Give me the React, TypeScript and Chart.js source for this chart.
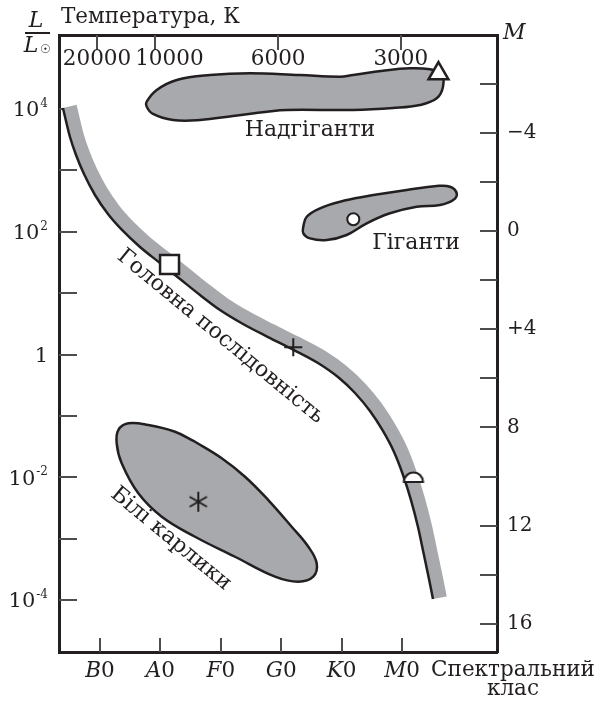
import React, { useEffect, useRef } from "react";
import { Chart, registerables } from "chart.js";

Chart.register(...registerables);

const SERIF = '"DejaVu Serif", "Liberation Serif", serif';
const INK = "#231f20";
const GREY = "#a7a9ac";
const TICK = "#4d4d4f";

// ---- axis definitions ----
// x: spectral class units (B0 = 1 ... M0 = 6); y: log10(L / Lsun); y2: absolute magnitude M
const xMin = 0.321;
const xMax = 7.573;
const logLMin = -4.847;
const logLMax = 5.206;
const magTop = -7.985;
const magBottom = 17.148;

const spectralLetters = ["B", "A", "F", "G", "K", "M"];
const spectralValues = [1, 2, 3, 4, 5, 6];

const temperatureLabels = ["20000", "10000", "6000", "3000"];
const temperatureValues = [0.95, 1.91, 3.95, 5.98];

const luminosityTicks = [4, 3, 2, 1, 0, -1, -2, -3, -4];
const luminosityLabels = [4, 2, 0, -2, -4];

const magnitudeTicks = [-6, -4, -2, 0, 2, 4, 6, 8, 10, 12, 14, 16];
const magnitudeLabelValues = [-4, 0, 4, 8, 12, 16];
const magnitudeLabelText = ["\u22124", "0", "+4", "8", "12", "16"];

// ---- data (x = spectral class, y = log L) ----
const mainSequenceEdge: [number, number][] = [
  [0.387, 4.016], [0.437, 3.804], [0.503, 3.544], [0.603, 3.251], [0.735, 2.941],
  [0.917, 2.599], [1.132, 2.289], [1.364, 2.029], [1.662, 1.752], [1.993, 1.491],
  [2.325, 1.23], [2.656, 0.969], [2.987, 0.725], [3.368, 0.497], [3.781, 0.285],
  [4.212, 0.073], [4.609, -0.138], [4.94, -0.367], [5.222, -0.627], [5.47, -0.921],
  [5.685, -1.246], [5.868, -1.589], [6.017, -1.963], [6.149, -2.371], [6.265, -2.811],
  [6.364, -3.267], [6.447, -3.658], [6.513, -3.984],
];
const mainSequenceBand: [number, number][] = [
  [0.5, 4.042], [0.55, 3.831], [0.614, 3.576], [0.71, 3.291], [0.839, 2.99],
  [1.017, 2.657], [1.224, 2.359], [1.447, 2.108], [1.738, 1.838], [2.066, 1.58],
  [2.397, 1.32], [2.727, 1.059], [3.051, 0.82], [3.424, 0.596], [3.834, 0.386],
  [4.265, 0.174], [4.671, -0.041], [5.013, -0.279], [5.306, -0.549], [5.563, -0.854],
  [5.785, -1.189], [5.974, -1.541], [6.126, -1.926], [6.26, -2.34], [6.377, -2.785],
  [6.477, -3.244], [6.561, -3.635], [6.627, -3.963],
];
const supergiants: [number, number][] = [
  [4.311, 4.554], [4.974, 4.526], [5.189, 4.554], [5.685, 4.624], [6.132, 4.663],
  [6.464, 4.647], [6.657, 4.582], [6.679, 4.363], [6.575, 4.174], [6.298, 4.065],
  [5.851, 4.016], [5.189, 3.984], [4.096, 3.984], [3.765, 3.956], [3.202, 3.886],
  [2.656, 3.821], [2.209, 3.821], [1.877, 3.919], [1.773, 4.037], [1.773, 4.119],
  [1.939, 4.31], [2.27, 4.473], [2.821, 4.554], [3.483, 4.582], [4.311, 4.554],
];
const giants: [number, number][] = [
  [5.525, 2.599], [6.078, 2.68], [6.575, 2.745], [6.795, 2.734], [6.906, 2.626],
  [6.849, 2.517], [6.629, 2.436], [6.243, 2.408], [5.801, 2.301], [5.416, 2.138],
  [5.084, 1.947], [4.753, 1.866], [4.477, 1.893], [4.366, 1.975], [4.366, 2.082],
  [4.422, 2.245], [4.642, 2.382], [4.974, 2.49], [5.525, 2.599],
];
const whiteDwarfs: [number, number][] = [
  [2.573, -1.421], [3.015, -1.691], [3.401, -1.991], [3.786, -2.371], [4.174, -2.806],
  [4.449, -3.132], [4.588, -3.402], [4.531, -3.62], [4.283, -3.702], [3.897, -3.62],
  [3.235, -3.295], [2.573, -2.969], [2.022, -2.643], [1.634, -2.262], [1.359, -1.773],
  [1.276, -1.447], [1.303, -1.23], [1.469, -1.121], [1.8, -1.149], [2.242, -1.258],
  [2.573, -1.421],
];

const starTriangle: [number, number] = [6.604, 4.578];
const starSquare: [number, number] = [2.151, 1.466];
const starCross: [number, number] = [4.2, 0.117];
const starCircle: [number, number] = [5.194, 2.203];
const starHalfCircle: [number, number] = [6.19, -2.077];
const starAsterisk: [number, number] = [2.627, -2.398];

const regionLabels = [
  { text: "Надгіганти", x: 4.477, y: 3.658, angle: 0 },
  { text: "Гіганти", x: 6.232, y: 1.817, angle: 0 },
  { text: "Головна послідовність", x: 2.995, y: 0.293, angle: 39.5 },
  { text: "Білі карлики", x: 2.175, y: -3.006, angle: 39.6 },
];

const toXY = (arr: [number, number][]) => arr.map(([x, y]) => ({ x, y }));

function makeHalfCircle() {
  const c = document.createElement("canvas");
  c.width = 26;
  c.height = 26;
  const g = c.getContext("2d")!;
  g.beginPath();
  g.arc(13, 13, 9.5, Math.PI, 0);
  g.closePath();
  g.fillStyle = "#ffffff";
  g.fill();
  g.lineWidth = 2.2;
  g.strokeStyle = INK;
  g.stroke();
  return c;
}

function makeAsterisk() {
  const c = document.createElement("canvas");
  c.width = 26;
  c.height = 26;
  const g = c.getContext("2d")!;
  g.strokeStyle = INK;
  g.lineWidth = 2;
  for (let k = 0; k < 3; k++) {
    const a = (k * Math.PI) / 3;
    g.beginPath();
    g.moveTo(13 + Math.sin(a) * 10, 13 - Math.cos(a) * 10);
    g.lineTo(13 - Math.sin(a) * 10, 13 + Math.cos(a) * 10);
    g.stroke();
  }
  return c;
}

const decorPlugin = {
  id: "hrDecor",
  beforeDatasetsDraw(chart: any) {
    const { ctx, chartArea: ca, scales } = chart;
    ctx.save();
    ctx.strokeStyle = TICK;
    ctx.lineWidth = 2;
    const seg = (x1: number, y1: number, x2: number, y2: number) => {
      ctx.beginPath();
      ctx.moveTo(x1, y1);
      ctx.lineTo(x2, y2);
      ctx.stroke();
    };
    scales.y.ticks.forEach((t: any) => {
      const p = Math.round(scales.y.getPixelForValue(t.value));
      seg(ca.left, p, ca.left + 18, p);
    });
    scales.y2.ticks.forEach((t: any) => {
      const p = Math.round(scales.y2.getPixelForValue(t.value));
      seg(ca.right - 17, p, ca.right, p);
    });
    scales.x.ticks.forEach((t: any) => {
      const p = Math.round(scales.x.getPixelForValue(t.value));
      seg(p, ca.bottom - 14, p, ca.bottom);
    });
    scales.x2.ticks.forEach((t: any) => {
      const p = Math.round(scales.x2.getPixelForValue(t.value));
      seg(p, ca.top, p, ca.top + 15);
    });
    ctx.restore();
  },
  afterDraw(chart: any) {
    const { ctx, chartArea: ca, scales } = chart;
    ctx.save();
    ctx.fillStyle = INK;
    ctx.textBaseline = "middle";

    // left axis: powers of ten
    luminosityLabels.forEach((e) => {
      const p = scales.y.getPixelForValue(e);
      const right = ca.left - 11;
      ctx.textAlign = "right";
      if (e === 0) {
        ctx.font = `21px ${SERIF}`;
        ctx.fillText("1", right, p + 2);
        return;
      }
      const exp = e < 0 ? "-" + Math.abs(e) : String(e);
      ctx.font = `12px ${SERIF}`;
      const ew = ctx.measureText(exp).width;
      ctx.fillText(exp, right, p - 5);
      ctx.font = `21px ${SERIF}`;
      ctx.fillText("10", right - ew - 1, p + 2);
    });

    // L / Lsun
    ctx.textAlign = "center";
    ctx.font = `italic 22px ${SERIF}`;
    ctx.fillText("L", ca.left - 23, 21);
    ctx.fillText("L", ca.left - 28, 46);
    ctx.font = `12px ${SERIF}`;
    ctx.fillText("\u2609", ca.left - 14, 50);
    ctx.strokeStyle = INK;
    ctx.lineWidth = 2;
    ctx.beginPath();
    ctx.moveTo(ca.left - 34, 33);
    ctx.lineTo(ca.left - 9, 33);
    ctx.stroke();

    // top title
    ctx.textAlign = "left";
    ctx.font = `21.5px ${SERIF}`;
    ctx.fillText("Температура, К", ca.left + 2, 17);

    // temperature labels
    ctx.font = `21.5px ${SERIF}`;
    let prevRight = -Infinity;
    temperatureValues.forEach((v, i) => {
      const txt = temperatureLabels[i];
      const w = ctx.measureText(txt).width;
      let left = scales.x2.getPixelForValue(v) - w / 2;
      if (left < prevRight + 4) left = prevRight + 4;
      ctx.fillText(txt, left, ca.top + 24);
      prevRight = left + w;
    });

    // M
    ctx.font = `italic 22px ${SERIF}`;
    ctx.fillText("M", ca.right + 6, 33);

    // spectral classes
    spectralValues.forEach((v, i) => {
      const px = scales.x.getPixelForValue(v);
      ctx.font = `italic 21.5px ${SERIF}`;
      const wl = ctx.measureText(spectralLetters[i]).width;
      ctx.font = `21.5px ${SERIF}`;
      const w0 = ctx.measureText("0").width;
      const start = px - (wl + w0) / 2;
      ctx.font = `italic 21.5px ${SERIF}`;
      ctx.fillText(spectralLetters[i], start, ca.bottom + 19);
      ctx.font = `21.5px ${SERIF}`;
      ctx.fillText("0", start + wl, ca.bottom + 19);
    });
    ctx.textAlign = "center";
    ctx.font = `21.5px ${SERIF}`;
    ctx.fillText("Спектральний", ca.right + 16, ca.bottom + 18);
    ctx.fillText("клас", ca.right + 16, ca.bottom + 37);

    // region labels
    regionLabels.forEach((l) => {
      ctx.save();
      ctx.translate(scales.x.getPixelForValue(l.x), scales.y.getPixelForValue(l.y));
      ctx.rotate((l.angle * Math.PI) / 180);
      ctx.textAlign = "center";
      ctx.font = `22px ${SERIF}`;
      ctx.fillText(l.text, 0, 0);
      ctx.restore();
    });
    ctx.restore();
  },
};

export default function App() {
  const ref = useRef<HTMLCanvasElement>(null);
  useEffect(() => {
    const canvas = ref.current!;
    const shape = (data: [number, number][]) => ({
      type: "line" as const,
      data: toXY(data),
      borderColor: INK,
      borderWidth: 2.5,
      backgroundColor: GREY,
      fill: "shape",
      tension: 0.4,
      pointRadius: 0,
    });
    const marker = (p: [number, number], style: any, radius: number, bw: number) => ({
      type: "line" as const,
      data: toXY([p]),
      showLine: false,
      pointStyle: style,
      pointRadius: radius,
      pointBackgroundColor: "#ffffff",
      pointBorderColor: INK,
      pointBorderWidth: bw,
    });
    const chart = new Chart(canvas, {
      type: "line",
      data: {
        datasets: [
          marker(starTriangle, "triangle", 11.5, 2.5),
          marker(starSquare, "rect", 13.4, 2.5),
          marker(starCross, "cross", 9, 2),
          marker(starCircle, "circle", 6, 2),
          marker(starHalfCircle, makeHalfCircle(), 10, 0),
          marker(starAsterisk, makeAsterisk(), 10, 0),
          {
            type: "line",
            data: toXY(mainSequenceEdge),
            borderColor: INK,
            borderWidth: 2.5,
            cubicInterpolationMode: "monotone",
            pointRadius: 0,
            fill: false,
          },
          {
            type: "line",
            data: toXY(mainSequenceBand),
            borderColor: GREY,
            borderWidth: 14,
            borderCapStyle: "butt",
            borderJoinStyle: "round",
            cubicInterpolationMode: "monotone",
            pointRadius: 0,
            fill: false,
          },
          shape(supergiants),
          shape(giants),
          shape(whiteDwarfs),
        ] as any,
      },
      options: {
        animation: false,
        responsive: false,
        devicePixelRatio: 1,
        layout: { padding: 0 },
        plugins: { legend: { display: false }, tooltip: { enabled: false } },
        events: [],
        scales: {
          x: {
            type: "linear",
            position: "bottom",
            min: xMin,
            max: xMax,
            afterBuildTicks: (s: any) => {
              s.ticks = spectralValues.map((v) => ({ value: v }));
            },
            ticks: { display: false },
            grid: { display: false, drawTicks: false },
            border: { display: true, color: INK, width: 3 },
            afterFit: (s: any) => {
              s.height = 51;
            },
          },
          x2: {
            type: "linear",
            position: "top",
            min: xMin,
            max: xMax,
            afterBuildTicks: (s: any) => {
              s.ticks = temperatureValues.map((v) => ({ value: v }));
            },
            ticks: { display: false },
            grid: { display: false, drawTicks: false },
            border: { display: true, color: INK, width: 3 },
            afterFit: (s: any) => {
              s.height = 35;
            },
          },
          y: {
            type: "linear",
            position: "left",
            min: logLMin,
            max: logLMax,
            afterBuildTicks: (s: any) => {
              s.ticks = luminosityTicks.map((v) => ({ value: v }));
            },
            ticks: { display: false },
            grid: { display: false, drawTicks: false },
            border: { display: true, color: INK, width: 3 },
            afterFit: (s: any) => {
              s.width = 59;
            },
          },
          y2: {
            type: "linear",
            position: "right",
            reverse: true,
            min: magTop,
            max: magBottom,
            afterBuildTicks: (s: any) => {
              s.ticks = magnitudeTicks.map((v) => ({ value: v }));
            },
            ticks: {
              display: true,
              padding: 10,
              color: INK,
              font: { family: SERIF, size: 20 },
              callback: (v: any) => {
                const i = magnitudeLabelValues.indexOf(Number(v));
                return i >= 0 ? magnitudeLabelText[i] : "";
              },
            },
            grid: { display: false, drawTicks: false },
            border: { display: true, color: INK, width: 3 },
            afterFit: (s: any) => {
              s.width = 102;
            },
          },
        },
      } as any,
      plugins: [decorPlugin],
    });
    return () => chart.destroy();
  }, []);
  return (
    <div style={{ position: "fixed", left: 0, top: 0, width: 599, height: 703, background: "#ffffff" }}>
      <canvas ref={ref} width={599} height={703} style={{ display: "block", width: 599, height: 703 }} />
    </div>
  );
}
